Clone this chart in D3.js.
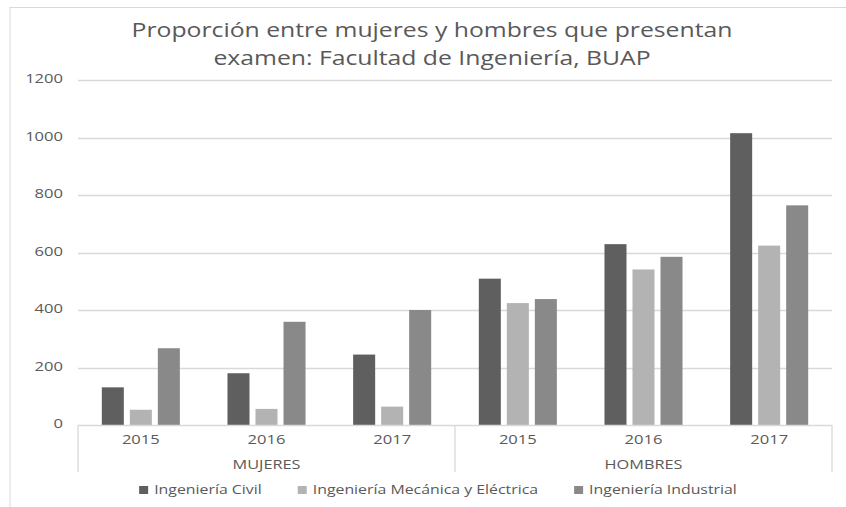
<!DOCTYPE html>
<html>
<head>
<meta charset="utf-8">
<script src="https://cdn.jsdelivr.net/npm/d3@7"></script>
<style>
  body { margin: 0; background: #fff; }
  svg { display: block; font-family: "Open Sans", sans-serif; }
</style>
</head>
<body>
<svg width="846" height="507"></svg>
<script>
const groups = ["MUJERES", "HOMBRES"];
const years = ["2015", "2016", "2017"];
const series = ["Ingeniería Civil", "Ingeniería Mecánica y Eléctrica", "Ingeniería Industrial"];
const colors = ["#5f5f5f", "#b3b3b3", "#898989"];

// values per series, order: MUJERES 2015-2017, HOMBRES 2015-2017
const civil = [131, 180, 245, 509, 629, 1015];
const mecanica = [53, 56, 64, 424, 541, 624];
const industrial = [267, 359, 400, 438, 585, 764];
const yTicks = [0, 200, 400, 600, 800, 1000, 1200];

const titleLines = ["Proporción entre mujeres y hombres que presentan", "examen: Facultad de Ingeniería, BUAP"];

const seriesValues = [civil, mecanica, industrial];
const cats = [];
groups.forEach(g => years.forEach(y => cats.push({group: g, year: y, key: g + "-" + y})));

const svg = d3.select("svg");
const textColor = "#595959";
const gridColor = "#d9d9d9";

// text is a bit stretched sideways in the original, so scale x
function label(sel, x, y, str, size, sx, anchor) {
  return sel.append("text")
    .attr("transform", `translate(${x},${y}) scale(${sx},1)`)
    .attr("text-anchor", anchor || "middle")
    .attr("dominant-baseline", "middle")
    .attr("font-size", size)
    .attr("fill", textColor)
    .text(str);
}

// chart frame
svg.append("line").attr("x1", 10).attr("x2", 10).attr("y1", 7).attr("y2", 507)
   .attr("stroke", gridColor);
svg.append("line").attr("x1", 10).attr("x2", 846).attr("y1", 7.5).attr("y2", 7.5)
   .attr("stroke", gridColor);

const plotLeft = 78, plotRight = 832, plotTop = 80, plotBottom = 425;

const x0 = d3.scaleBand().domain(cats.map(d => d.key)).range([plotLeft, plotRight]);
const x1 = d3.scaleBand().domain(series).range([0, x0.bandwidth()])
             .paddingInner(0.214).paddingOuter(0.85);
const y = d3.scaleLinear().domain([0, 1200]).range([plotBottom, plotTop]);

// gridlines
svg.append("g").selectAll("line")
   .data(yTicks.filter(t => t > 0))
   .enter().append("line")
   .attr("x1", plotLeft).attr("x2", plotRight)
   .attr("y1", d => Math.round(y(d)) + 0.5).attr("y2", d => Math.round(y(d)) + 0.5)
   .attr("stroke", gridColor).attr("stroke-width", 1.3);

// y labels
yTicks.forEach(t => label(svg, 63, y(t), t, 12, 1.38, "end"));

// bars
const barG = svg.append("g");
series.forEach((s, si) => {
  barG.selectAll(null)
      .data(seriesValues[si])
      .enter().append("rect")
      .attr("x", (d, i) => x0(cats[i].key) + x1(s))
      .attr("width", x1.bandwidth())
      .attr("y", d => y(d))
      .attr("height", d => y(0) - y(d))
      .attr("fill", colors[si]);
});

// category axis
svg.append("line").attr("x1", plotLeft).attr("x2", plotRight)
   .attr("y1", plotBottom + 0.5).attr("y2", plotBottom + 0.5)
   .attr("stroke", gridColor).attr("stroke-width", 1.3);
const groupW = (plotRight - plotLeft) / groups.length;
d3.range(groups.length + 1).forEach(i => {
  const xx = plotLeft + i * groupW;
  svg.append("line").attr("x1", xx).attr("x2", xx)
     .attr("y1", plotBottom).attr("y2", 472)
     .attr("stroke", gridColor).attr("stroke-width", 1.3);
});
cats.forEach(c => label(svg, x0(c.key) + x0.bandwidth() / 2, 440.5, c.year, 12, 1.38));
groups.forEach((g, i) => label(svg, plotLeft + groupW * (i + 0.5), 466, g, 12, 1.36));

// title
titleLines.forEach((t, i) => label(svg, 432, 32 + i * 28, t, 19.5, 1.27));

// legend
const legend = svg.append("g");
let lx = 0;
series.forEach((s, si) => {
  legend.append("rect").attr("x", lx).attr("y", 486).attr("width", 9).attr("height", 8)
        .attr("fill", colors[si]);
  const t = label(legend, lx + 15, 490.5, s, 12.5, 1.27, "start");
  lx += 15 + t.node().getComputedTextLength() * 1.27 + 36;
});
lx -= 36;
legend.attr("transform", `translate(${438 - lx / 2},0)`);
</script>
</body>
</html>
